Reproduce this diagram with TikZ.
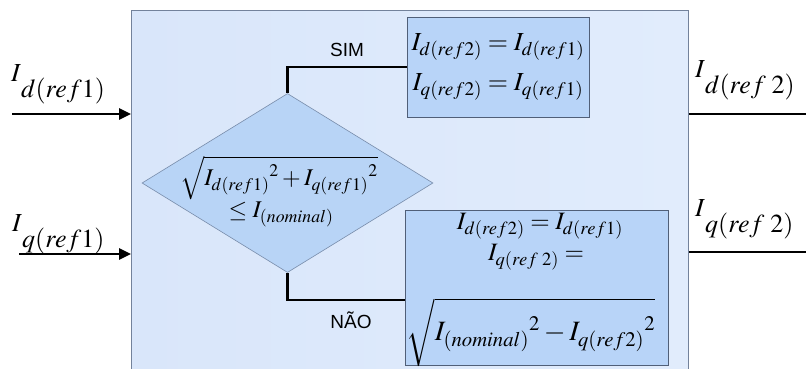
\documentclass[tikz,border=0pt]{standalone}
\usepackage{mathptmx}
\usepackage{fontspec}
\setmainfont{Liberation Serif}
\setsansfont{Liberation Sans}
\usetikzlibrary{arrows.meta,shapes.geometric}
\definecolor{bigfillL}{RGB}{217,230,250}
\definecolor{bigfillR}{RGB}{225,236,252}
\definecolor{bigdraw}{RGB}{115,130,155}
\definecolor{diafill}{RGB}{184,212,246}
\definecolor{diadraw}{RGB}{120,140,170}
\definecolor{boxfill}{RGB}{184,212,248}
\definecolor{boxdraw}{RGB}{80,95,120}
\newcommand{\extlab}[2]{{\fontsize{26}{30}\selectfont$I$\raisebox{-0.62em}{$#1(#2)$}}}
\tikzset{
  bigbox/.style={draw=bigdraw, line width=0.8pt, left color=bigfillL, right color=bigfillR, inner sep=0pt},
  dia/.style={diamond, draw=diadraw, fill=diafill, line width=0.6pt, inner sep=0pt},
  rbox/.style={draw=boxdraw, fill=boxfill, line width=0.8pt, inner sep=0pt},
  conn/.style={line width=2.6pt, black},
  arr/.style={conn, -{Triangle[length=12pt,width=11pt]}},
  lbl/.style={font=\sffamily\fontsize{19}{22}\selectfont, inner sep=0pt},
  ext/.style={inner sep=0pt, anchor=north west},
  mtxt/.style={inner sep=0pt, align=center}
}
\begin{document}
\begin{tikzpicture}[x=1pt,y=-1pt]
\useasboundingbox (0,0) rectangle (806,369);
\fill[white] (0,0) rectangle (806,369);
% main block
\node[bigbox, minimum width=557pt, minimum height=372pt, anchor=north west] (big) at (131,10) {};
% decision
\node[dia, minimum width=291pt, minimum height=179pt] (d) at (287.5,183) {};
\node[mtxt, font=\fontsize{24}{28}\selectfont] (dtext) at (279,178)
  {$\sqrt{{I_{d(ref1)}}^{2}+{I_{q(ref1)}}^{2}}$};
\node[mtxt, font=\fontsize{24}{28}\selectfont] (dtext2) at (281,214)
  {$\leq I_{(nominal)}$};
% result boxes
\node[rbox, minimum width=182pt, minimum height=100pt] (top) at (498,67) {};
\node[mtxt, font=\fontsize{26}{40}\selectfont] (toptext) at (top)
  {$I_{d(ref2)}=I_{d(ref1)}$\\$I_{q(ref2)}=I_{q(ref1)}$};
\node[rbox, minimum width=263pt, minimum height=155pt] (bot) at (536.5,287.5) {};
\node[mtxt, font=\fontsize{25}{30}\selectfont] (bot1) at (540,226)
  {$I_{d(ref2)}=I_{d(ref1)}$};
\node[mtxt, font=\fontsize{25}{30}\selectfont] (bot2) at (536,257)
  {$I_{q(ref\;2)}=$};
\node[mtxt, font=\fontsize{28}{32}\selectfont] (bot3) at (531,332)
  {$\sqrt{\vphantom{\Big(}{I_{(nominal)}}^{2}-{I_{q(ref2)}}^{2}}$};
% branches
\draw[conn] (d.north) |- (top.west);
\draw[conn] (d.south) |- ([yshift=-12.5pt]bot.west);
\node[lbl] (sim) at (347,50) {SIM};
\node[lbl] (nao) at (351,320) {NÃO};
% inputs
\coordinate (inD) at (12,114);
\coordinate (inQ) at (19,254);
\draw[arr] (inD) -- (inD -| big.west);
\draw[arr] (inQ) -- (inQ -| big.west);
\node[ext] (labD) at (11,64) {\extlab{d}{ref1}};
\node[ext] (labQ) at (12,214) {\extlab{q}{ref1}};
% outputs
\coordinate (outD) at (806,114);
\coordinate (outQ) at (806,252);
\draw[conn] (outD -| big.east) -- (outD);
\draw[conn] (outQ -| big.east) -- (outQ);
\node[ext] (labDo) at (695,60) {\extlab{d}{ref\;2}};
\node[ext] (labQo) at (695,199) {\extlab{q}{ref\;2}};
\end{tikzpicture}
\end{document}
